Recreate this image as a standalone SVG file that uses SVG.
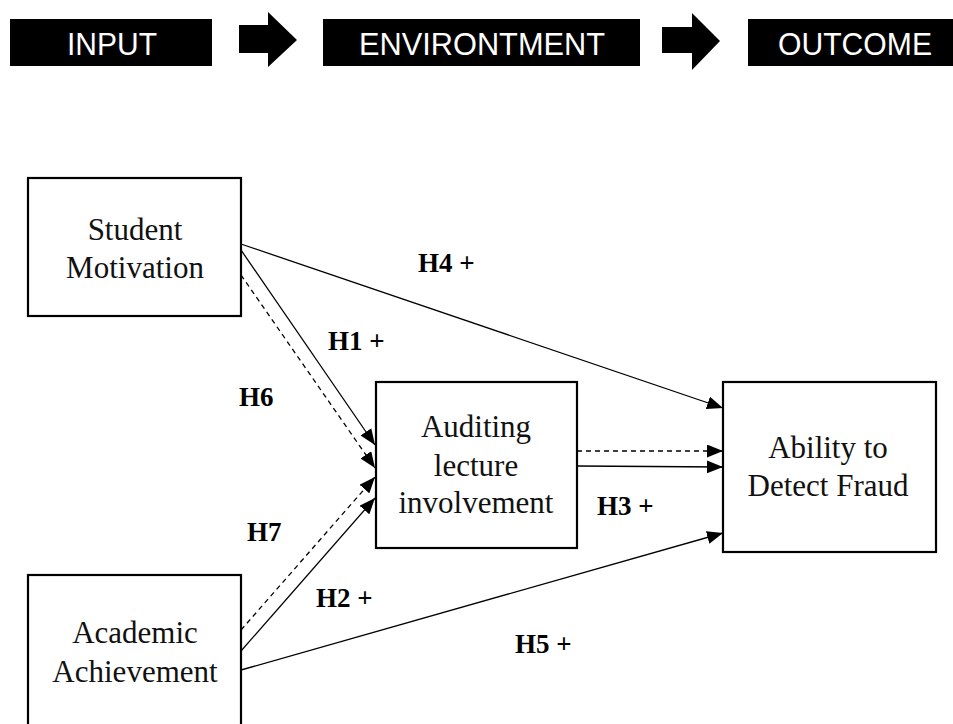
<svg xmlns="http://www.w3.org/2000/svg" width="953" height="724" viewBox="0 0 953 724">
<style>
.hdr{fill:#000}
.hdrt{fill:#fff;font-family:"Liberation Sans",Arial,sans-serif;font-size:32px;text-anchor:middle}
.box{fill:#fff;stroke:#000;stroke-width:2.2}
.lbl{font-family:"Liberation Serif","Times New Roman",serif;font-size:31px;text-anchor:middle;fill:#111}
.hyp{font-family:"Liberation Serif","Times New Roman",serif;font-size:27px;font-weight:bold;fill:#000}
.ln{stroke:#000;stroke-width:1.3;fill:none;marker-end:url(#ah)}
.dash{stroke-dasharray:5,4}
</style>
<defs>
<marker id="ah" markerUnits="userSpaceOnUse" markerWidth="17" markerHeight="14" refX="16" refY="6.5" orient="auto">
<path d="M0,0 L16,6.5 L0,13 z" fill="#000"/>
</marker>
</defs>
<g id="header">
<g id="input"><rect class="hdr" x="10" y="19" width="202" height="47"/><text class="hdrt" x="112" y="55" textLength="90" lengthAdjust="spacingAndGlyphs">INPUT</text></g>
<polygon id="arrow1" class="hdr" points="239,25 268,25 268,12 297,40 268,67 268,53 239,53"/>
<g id="environment"><rect class="hdr" x="323" y="19" width="317" height="47"/><text class="hdrt" x="482" y="55" textLength="246" lengthAdjust="spacingAndGlyphs">ENVIRONTMENT</text></g>
<polygon id="arrow2" class="hdr" points="662,27 692,27 692,13 720,41 692,70 692,53 662,53"/>
<g id="outcome"><rect class="hdr" x="748" y="19" width="205" height="47"/><text class="hdrt" x="855" y="55" textLength="154" lengthAdjust="spacingAndGlyphs">OUTCOME</text></g>
</g>
<g id="connectors">
<line class="ln" x1="241" y1="244" x2="723" y2="408"/>
<line class="ln" x1="241" y1="250" x2="375" y2="445"/>
<line class="ln dash" x1="241" y1="275" x2="375" y2="468"/>
<line class="ln dash" x1="241" y1="630" x2="375" y2="477"/>
<line class="ln" x1="241" y1="651" x2="375" y2="498"/>
<line class="ln" x1="241" y1="670" x2="723" y2="533"/>
<line class="ln dash" x1="577" y1="451" x2="723" y2="451"/>
<line class="ln" x1="577" y1="466" x2="723" y2="467"/>
</g>
<g id="student-motivation"><rect class="box" x="28" y="178" width="213" height="138"/><text class="lbl" x="135" y="240">Student</text><text class="lbl" x="135" y="278">Motivation</text></g>
<g id="academic-achievement"><rect class="box" x="28" y="575" width="213" height="160"/><text class="lbl" x="135" y="643">Academic</text><text class="lbl" x="135" y="682">Achievement</text></g>
<g id="auditing"><rect class="box" x="376" y="382" width="201" height="166"/><text class="lbl" x="476" y="437">Auditing</text><text class="lbl" x="476" y="476">lecture</text><text class="lbl" x="476" y="513">involvement</text></g>
<g id="ability"><rect class="box" x="723" y="382" width="213" height="170"/><text class="lbl" x="828" y="458">Ability to</text><text class="lbl" x="828" y="496">Detect Fraud</text></g>
<g id="labels">
<text class="hyp" x="418" y="272">H4 +</text>
<text class="hyp" x="328" y="350">H1 +</text>
<text class="hyp" x="239" y="406">H6</text>
<text class="hyp" x="247" y="541">H7</text>
<text class="hyp" x="316" y="607">H2 +</text>
<text class="hyp" x="597" y="515">H3 +</text>
<text class="hyp" x="515" y="653">H5 +</text>
</g>
</svg>
